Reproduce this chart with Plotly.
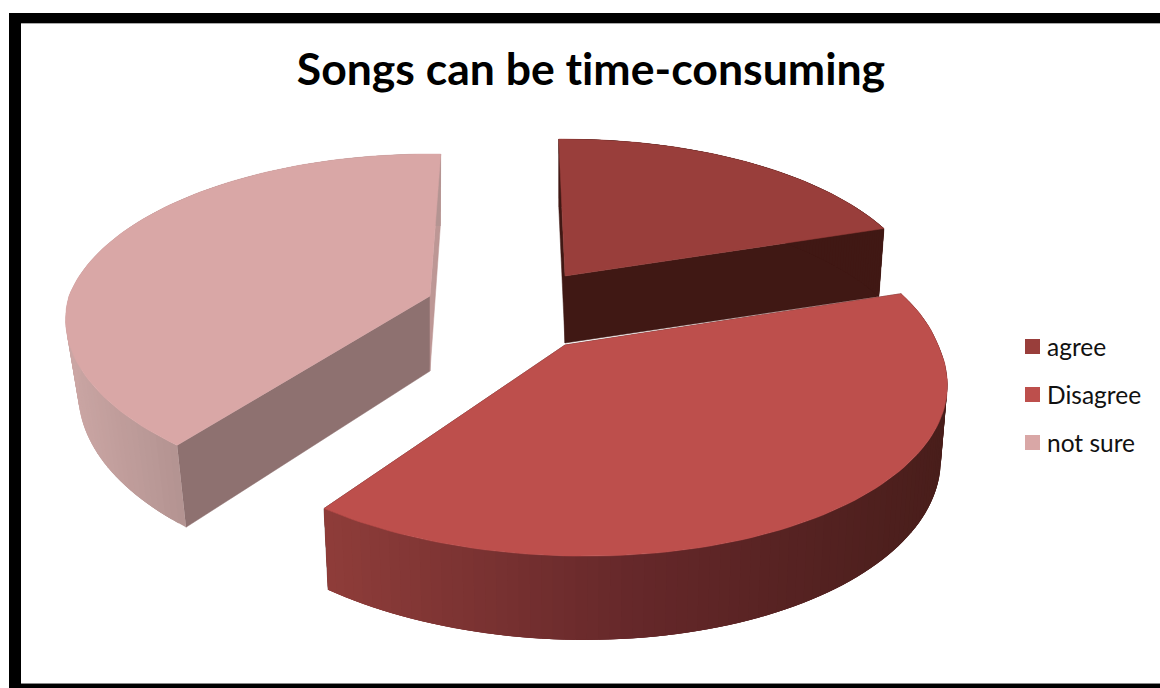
import numpy as np
import plotly.graph_objects as go

categories = ["agree", "Disagree", "not sure"]
values = [20.3, 40.1, 39.6]
start_angle = -1.2

top_colors = ["#993e3b", "#bd4f4c", "#d9a7a6"]
start_wall_colors = ["#401814", "#4a1d1a", "#8e7170"]
end_wall_colors = ["#401814", "#4a1d1a", "#bd9795"]
# Rim shading runs from the left of each slice's arc to the right of it.
rim_stops = [
    ((558, "#401814"), (881, "#401814")),
    ((326, "#8f3d3a"), (640, "#65282a"), (948, "#491e1b")),
    ((66, "#cba6a4"), (177, "#b49492")),
]

# Where each exploded slice sits and how its disc is foreshortened.
geometry = [
    dict(apex=(565, 276), X=354, Y=161, k=0.176, a=0, D=68, apex_d=67,
         shrink=0.984, twist=0),
    dict(apex=(565, 345), X=373, Y=174, k=0.176, a=17, D=71, apex_d=70,
         shrink=0.983, twist=0),
    dict(apex=(430, 296), X=361, Y=167, k=0.176, a=14, D=72, apex_d=75,
         shrink=0.965, twist=3.2),
]
DEPTH_GROWTH = 0.18
STRIP_OVERLAP = 3


def project(g, theta):
    """Clockwise angle from 12 o'clock on the disc to top-face x, y and rim depth."""
    u = np.sin(theta)
    v = -np.cos(theta)
    s = 1 / (1 - g["k"] * v)
    front = np.maximum(v, 0)
    x = g["apex"][0] + (g["X"] * u + g["a"] * front) * s
    y = g["apex"][1] + g["Y"] * v * s
    return x, y, g["D"] * (1 + DEPTH_GROWTH * front)


def base(g, x, y, d):
    ax = g["apex"][0]
    return ax + (x - ax) * g["shrink"], y + d


def blend(stops, x):
    xs = [p[0] for p in stops]
    rgb = [[int(p[1][i:i + 2], 16) for i in (1, 3, 5)] for p in stops]
    c = [np.interp(x, xs, [col[j] for col in rgb]) for j in range(3)]
    return "rgb(%d,%d,%d)" % tuple(c)


def poly(fig, xs, ys, color, line_width=0.0):
    fig.add_trace(go.Scatter(
        x=list(xs), y=list(ys), mode="lines", fill="toself", fillcolor=color,
        line=dict(color=color, width=line_width), hoverinfo="skip", showlegend=False,
    ))


fig = go.Figure()
edges = start_angle + np.cumsum([0] + values) / sum(values) * 360.0

for i in (2, 0, 1):
    g = geometry[i]
    t0 = np.radians(edges[i] + g["twist"])
    t1 = np.radians(edges[i + 1] + g["twist"])
    ts = np.linspace(t0, t1, 100)
    ax, ay = g["apex"]
    apex_bottom = ay + g["apex_d"]

    # Straight cut walls first.
    for t, col in ((t0, start_wall_colors[i]), (t1, end_wall_colors[i])):
        x, y, d = project(g, t)
        bx, by = base(g, x, y, d)
        poly(fig, [ax, x, bx, ax, ax], [ay, y, by, apex_bottom, ay], col, 0.5)

    # Curved rim as narrow shaded strips that overlap their neighbours,
    # ordered so the front-most arc is painted last.
    rx, ry, rd = project(g, ts)
    bx, by = base(g, rx, ry, rd)
    n = len(ts)
    for j in range(n - 1):
        e = min(j + STRIP_OVERLAP, n - 1)
        xs = [*rx[j:e + 1], *bx[j:e + 1][::-1], rx[j]]
        ys = [*ry[j:e + 1], *by[j:e + 1][::-1], ry[j]]
        poly(fig, xs, ys, blend(rim_stops[i], (rx[j] + rx[j + 1]) / 2))

    # Top face of the slice.
    poly(fig, [ax, *rx, ax], [ay, *ry, ay], top_colors[i], 0.5)

# Frame around the chart area.
frame = [
    dict(x0=9, x1=21, y0=13, y1=688, fillcolor="black"),
    dict(x0=9, x1=1160, y0=13, y1=23, fillcolor="black"),
    dict(x0=9, x1=1160, y0=684, y1=688, fillcolor="black"),
    dict(x0=21, x1=1160, y0=23, y1=24, fillcolor="#aaaaaa"),
    dict(x0=21, x1=1160, y0=683, y1=684, fillcolor="#888888"),
]
shapes = [dict(type="rect", xref="x", yref="y", line_width=0, layer="below", **f)
          for f in frame]

# Legend: colour key squares with their labels.
annotations = []
for n, (name, color) in enumerate(zip(categories, top_colors)):
    mid = 346.5 + 48 * n
    shapes.append(dict(type="rect", xref="x", yref="y", x0=1025, x1=1040,
                       y0=mid - 7.5, y1=mid + 7.5, fillcolor=color, line_width=0))
    annotations.append(dict(
        text=name, xref="x", yref="y", x=1045, y=mid, xanchor="left", yanchor="middle",
        showarrow=False, font=dict(family="Lato", size=24.5, color="#111111"),
    ))

fig.update_layout(
    width=1160, height=688,
    margin=dict(l=0, r=0, t=0, b=0),
    paper_bgcolor="white", plot_bgcolor="white",
    showlegend=False,
    title=dict(
        # The second run keeps "t" and "i" as separate glyphs.
        text='<b>Songs can be t<span style="font-size:44.6px">ime-consuming</span></b>',
        font=dict(family="Lato", size=44.5, color="black"),
        x=591 / 1160, xanchor="center", y=1 - 69 / 688, yanchor="middle",
    ),
    xaxis=dict(range=[0, 1160], visible=False, fixedrange=True),
    yaxis=dict(range=[688, 0], visible=False, fixedrange=True),
    shapes=shapes,
    annotations=annotations,
)

fig.write_html("out.html")
